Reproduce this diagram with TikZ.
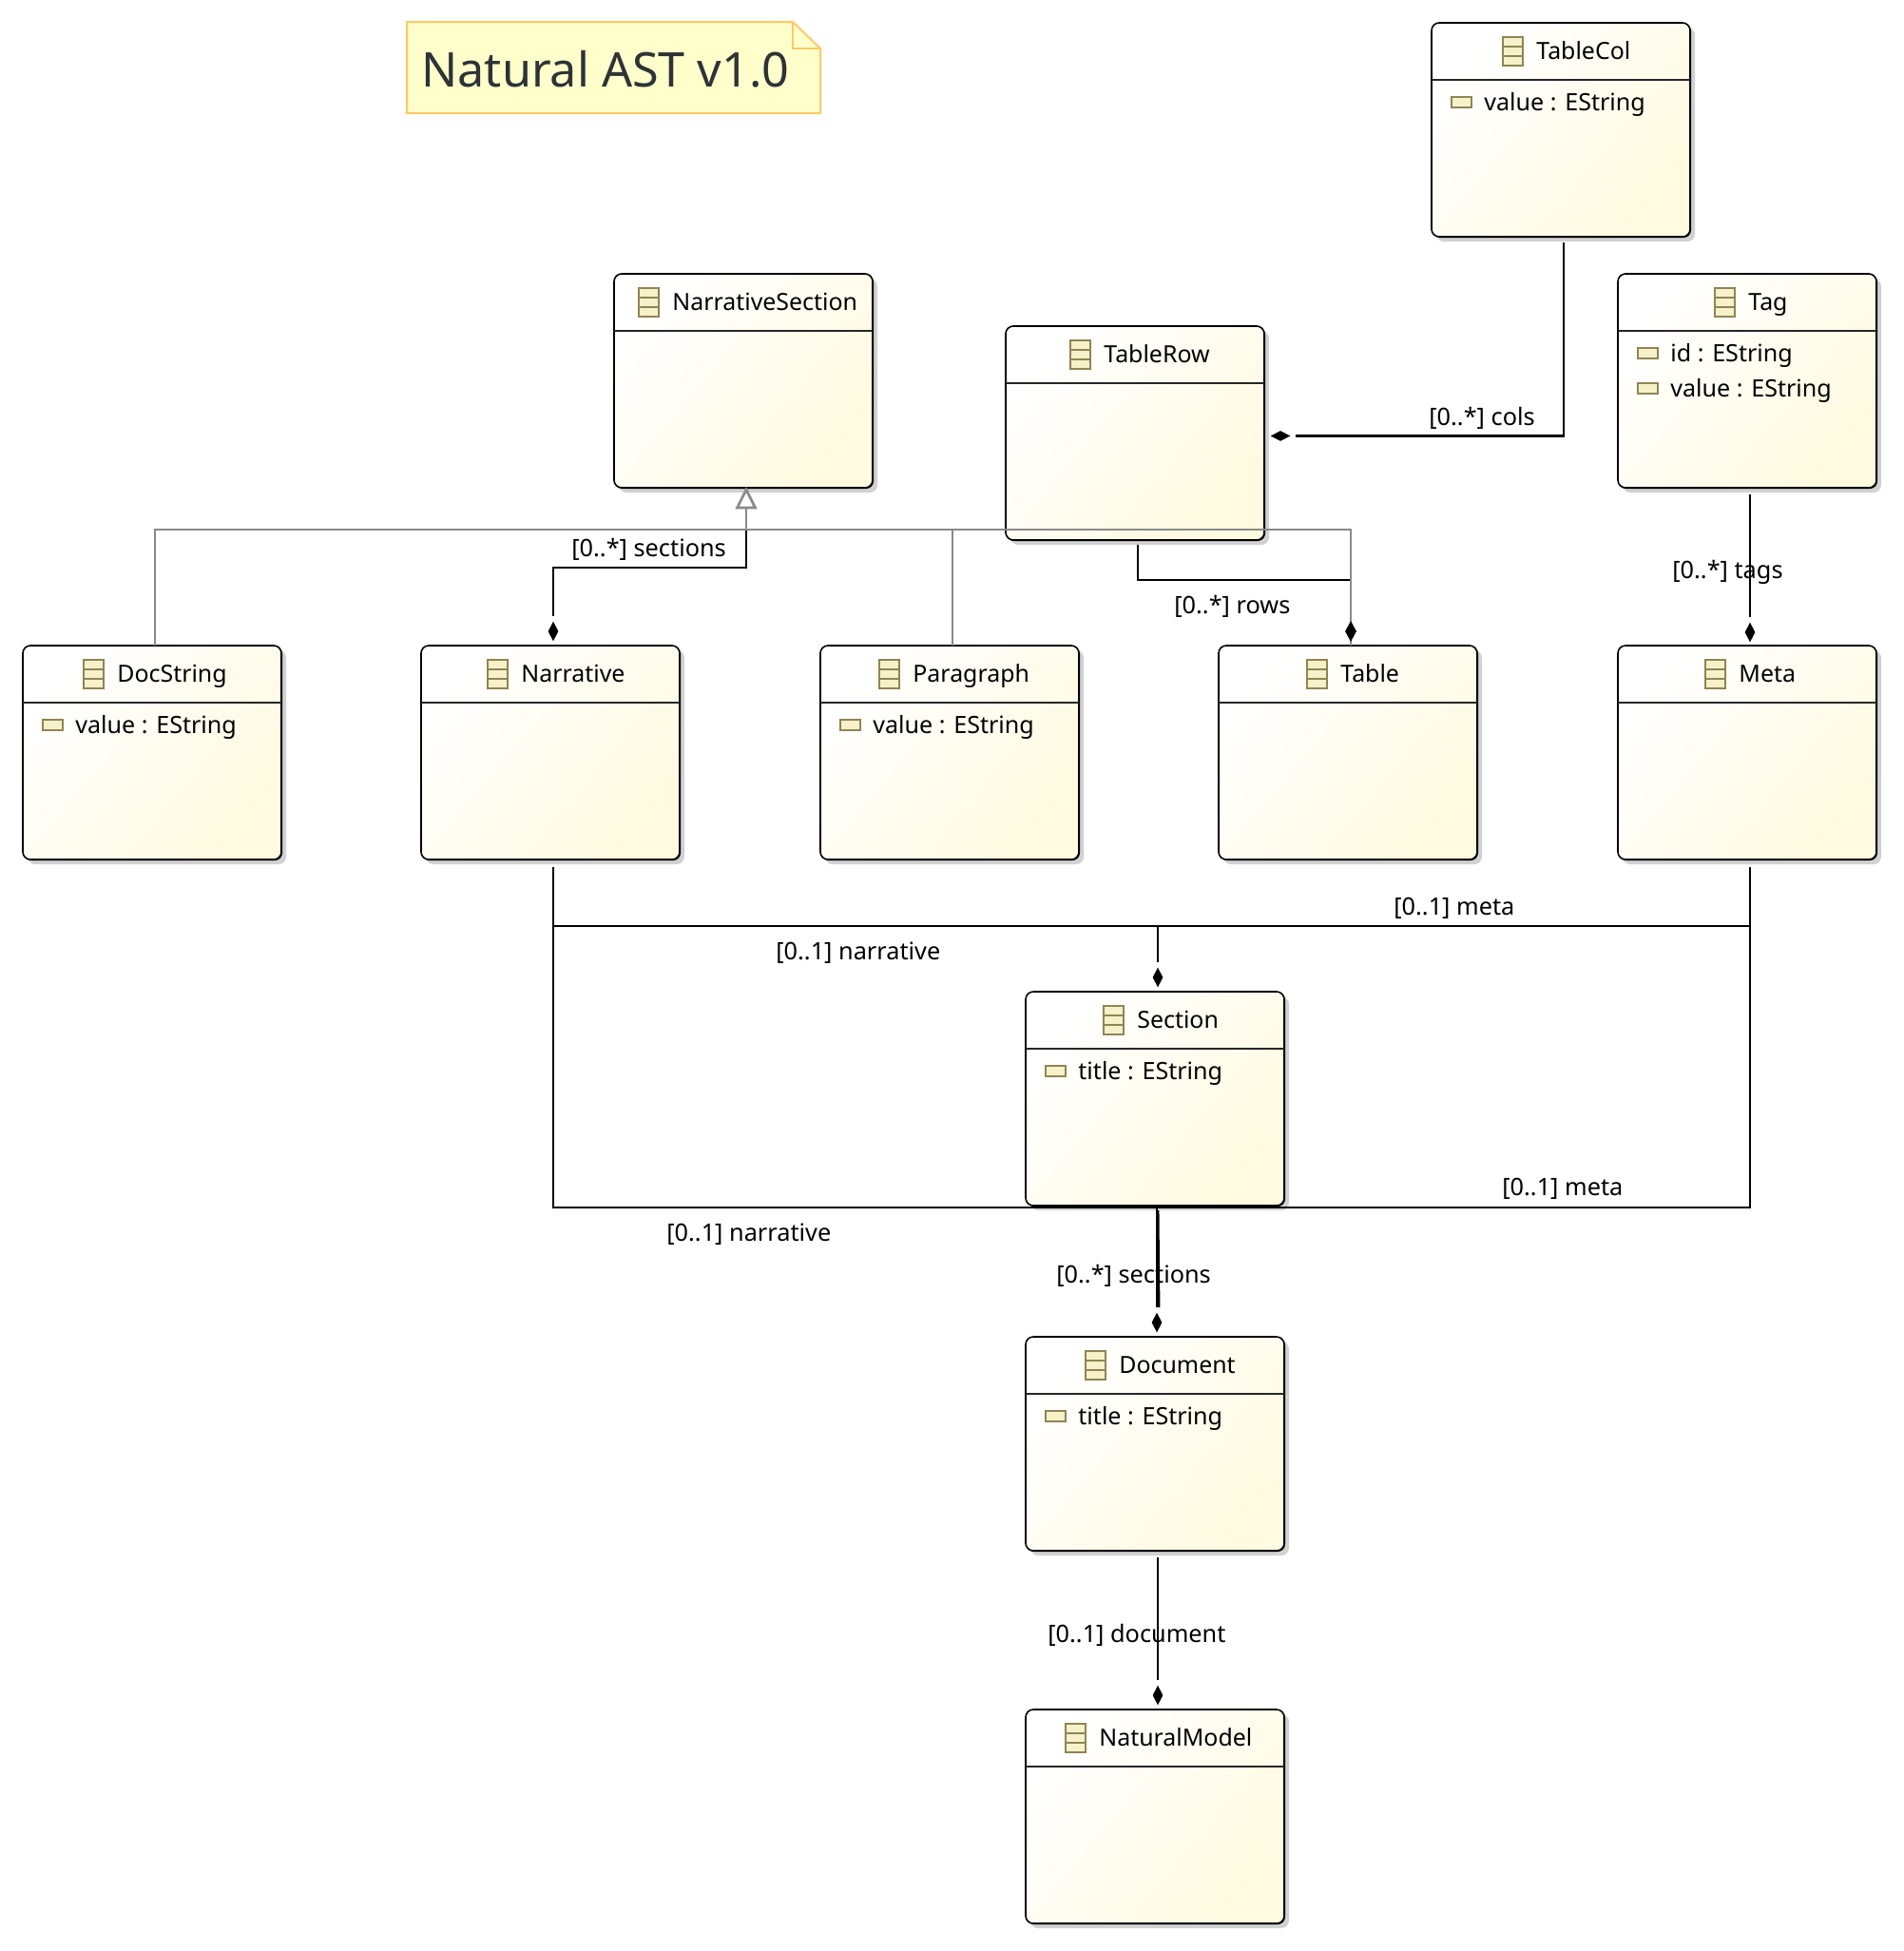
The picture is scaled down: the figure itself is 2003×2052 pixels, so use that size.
\documentclass[tikz,border=0pt]{standalone}
\usepackage{fontspec}
\setmainfont{Noto Sans}
\usetikzlibrary{shapes.geometric,calc}
\definecolor{boxend}{HTML}{FFFAE0}
\definecolor{iconline}{HTML}{8F8555}
\definecolor{iconfill}{HTML}{F6F1C8}
\definecolor{notefill}{HTML}{FFFFCC}
\definecolor{noteline}{HTML}{FFC966}
\definecolor{notetext}{HTML}{2E3336}
\definecolor{genline}{HTML}{8A8A8A}
\tikzset{
  classbox/.style={rectangle,draw=black,line width=.8pt,rounded corners=4pt,
    minimum width=136pt,minimum height=112.5pt,inner sep=0pt,outer sep=0pt,
    anchor=north west,top color=white,bottom color=boxend,shading angle=50},
  boxshadow/.style={fill=black!18,rounded corners=4pt},
  boxedge/.style={fill=black,rounded corners=4pt},
  headrule/.style={line width=.55pt,draw=black!85},
  iconbox/.style={draw=iconline,fill=iconfill,line width=1pt},
  titletext/.style={anchor=base west,inner sep=0pt,font=\fontsize{12.45}{16}\selectfont},
  attrtext/.style={anchor=base west,inner sep=0pt,font=\fontsize{12.55}{16}\selectfont},
  linklabel/.style={anchor=base west,inner sep=0pt,font=\fontsize{12.65}{15}\selectfont},
  assoc/.style={draw=black,line width=1.45pt},
  inherit/.style={draw=genline,line width=1.35pt},
  vdiamond/.style={shape=diamond,fill=black,inner sep=0pt,minimum width=5.5pt,minimum height=10.5pt,shape aspect=.55},
  hdiamond/.style={shape=diamond,fill=black,inner sep=0pt,minimum width=10.5pt,minimum height=5.5pt,shape aspect=1.9},
  x=.5pt,y=-.5pt
}
% name, left, top, icon left, title
\newcommand{\umlclass}[5]{%
  \fill[boxshadow] ({#2+5},{#3+5}) rectangle ++(272,225);
  \fill[boxedge] ({#2+1},{#3+1}) rectangle ++(272,225);
  \node[classbox] (#1) at (#2,#3) {};
  \draw[headrule] (#1.north west) ++(0,60) -- ++(272,0);
  \draw[iconbox] (#4,{#3+15}) rectangle ++(21,30);
  \draw[iconbox] (#4,{#3+25}) -- ++(21,0) (#4,{#3+35}) -- ++(21,0);
  \node[titletext] (#1title) at ({#4+35},{#3+38.5}) {#5};
}
% box name, left, top, row, text
\newcommand{\umlattr}[5]{%
  \draw[iconbox] ({#2+21},{#3+78+37*#4}) rectangle ++(21,11);
  \node[attrtext] (#1attr#4) at ({#2+55},{#3+92+37*#4}) {#5};
}
\begin{document}
\begin{tikzpicture}
\fill[white] (0,0) rectangle (2003,2052);
\useasboundingbox (0,0) rectangle (2003,2052);

% note
\draw[fill=notefill,draw=noteline,line width=1pt] (428,23) -- (834,23) -- (863,51) -- (863,119) -- (428,119) -- cycle;
\draw[draw=noteline,line width=1pt] (834,23) -- (834,51) -- (863,51);
\node[anchor=base west,inner sep=0pt,text=notetext,font=\fontsize{25.15}{30}\selectfont] (notelabel) at (443,91.5) {Natural AST v1.0};

% classes
\umlclass{tablecol}{1506}{24}{1581}{TableCol}
\umlattr{tablecol}{1506}{24}{0}{value : EString}
\umlclass{nsection}{646}{288}{672}{NarrativeSection}
\umlclass{tablerow}{1058}{343}{1126}{TableRow}
\umlclass{tag}{1702}{288}{1804}{Tag}
\umlattr{tag}{1702}{288}{0}{id : EString}
\umlattr{tag}{1702}{288}{1}{value : EString}
\umlclass{docstring}{24}{679}{88}{DocString}
\umlattr{docstring}{24}{679}{0}{value : EString}
\umlclass{narrative}{443}{679}{513}{Narrative}
\umlclass{paragraph}{863}{679}{925}{Paragraph}
\umlattr{paragraph}{863}{679}{0}{value : EString}
\umlclass{table}{1282}{679}{1375}{Table}
\umlclass{meta}{1702}{679}{1794}{Meta}
\umlclass{section}{1079}{1043}{1161}{Section}
\umlattr{section}{1079}{1043}{0}{title : EString}
\umlclass{document}{1079}{1406}{1142}{Document}
\umlattr{document}{1079}{1406}{0}{title : EString}
\umlclass{naturalmodel}{1079}{1798}{1121}{NaturalModel}

% labels
\node[linklabel] (lcols) at (1503,447) {[0..*] cols};
\node[linklabel] (lsec) at (601,585) {[0..*] sections};
\node[linklabel] (lrows) at (1235,645) {[0..*] rows};
\node[linklabel] (ltags) at (1759,608) {[0..*] tags};
\node[linklabel] (lmeta) at (1466,962) {[0..1] meta};
\node[linklabel] (lnarr) at (816,1009) {[0..1] narrative};
\node[linklabel] (lmetab) at (1580,1257) {[0..1] meta};
\node[linklabel] (lnarrb) at (701,1305) {[0..1] narrative};
\node[linklabel] (lsecb) at (1111,1349) {[0..*] sections};
\node[linklabel] (ldoc) at (1102,1727) {[0..1] document};

% diamonds
\node[hdiamond] (dcols) at ($(tablerow.east)+(17,3)$) {};
\node[vdiamond] (dnarr) at ($(narrative.north)+(3,-15)$) {};
\node[vdiamond] (dmeta) at ($(meta.north)+(3,-14)$) {};
\node[vdiamond,fill=none] (dtable) at ($(table.north)+(3,-15)$) {};
\node[vdiamond] (dsection) at ($(section.north)+(3,-15)$) {};
\node[vdiamond] (ddoc) at ($(document.north)+(2,-15)$) {};
\node[vdiamond] (dmodel) at ($(naturalmodel.north)+(3,-15)$) {};

% anchors on the class boxes
\coordinate (gapex) at ($(nsection.south)+(3,2)$);
\coordinate (gbase) at ($(nsection.south)+(3,21)$);
\coordinate (gjoin) at ($(nsection.south)+(3,44)$);

% associations
\draw[assoc,shorten >=2.5pt] ($(tablecol.south)+(3,6)$) |- (dcols.east);
\draw[assoc,shorten >=2.5pt] (gjoin) -- ++(0,40) -| (dnarr.north);
\draw[assoc,shorten >=2.5pt] ($(tablerow.south)+(3,5)$) -- ++(0,37) -| (dtable.north);
\draw[assoc,shorten >=2.5pt] ($(tag.south)+(3,7)$) -- (dmeta.north);
\draw[assoc,shorten >=2.5pt] ($(meta.south)+(3,8)$) -- ++(0,62) -| (dsection.north);
\draw[assoc,shorten >=2.5pt] ($(narrative.south)+(3,8)$) -- ++(0,62) -| (dsection.north);
\draw[assoc,shorten >=2.5pt] ($(narrative.south)+(3,8)$) -- ++(0,358) -| (ddoc.north);
\draw[assoc,shorten >=2.5pt] ($(meta.south)+(3,8)$) -- ++(0,358) -| (ddoc.north);
\draw[assoc,shorten >=2.5pt] ($(section.south)+(3,5)$) -- ($(ddoc.north)+(2,0)$);
\draw[assoc,shorten >=2.5pt] ($(document.south)+(3,7)$) -- (dmodel.north);

% generalisations
\draw[inherit] ($(docstring.north)+(3,0)$) |- (gjoin) -- (gbase);
\draw[inherit] ($(paragraph.north)+(3,0)$) |- (gjoin);
\draw[inherit] ($(table.north)+(3,0)$) |- (gjoin);
\draw[inherit,fill=white] (gapex) -- ++(-9.5,19) -- ++(19,0) -- cycle;
\fill[black] (dtable.north) -- (dtable.east) -- (dtable.south) -- (dtable.west) -- cycle;
\end{tikzpicture}
\end{document}
